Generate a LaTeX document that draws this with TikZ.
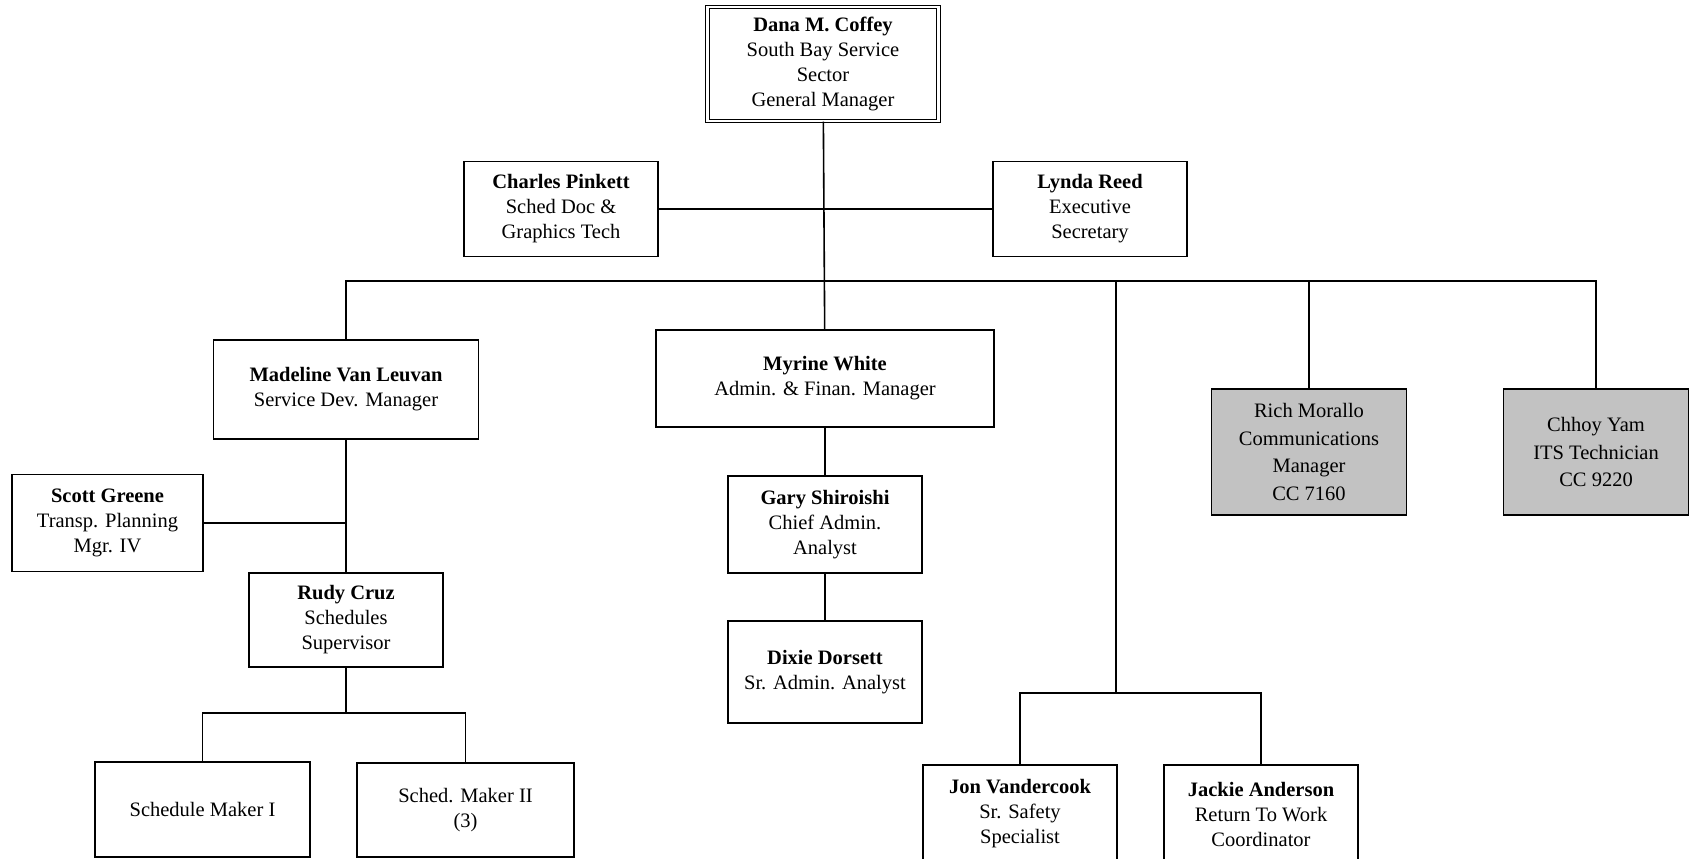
\documentclass[tikz,border=0pt]{standalone}
\usepackage{fontspec}
\setmainfont{Liberation Serif}
\usepackage{xcolor}
\usepackage{tikz}

\begin{document}
\begin{tikzpicture}[x=1pt, y=-1pt, line width=1.6pt,
        font=\fontsize{20.5}{25}\selectfont,
        box/.style={draw, align=center, inner sep=0pt},
        grey/.style={box, fill=black!24, font=\fontsize{20.5}{27.5}\selectfont}]
        \path[use as bounding box, fill=white] (0,0) rectangle (1690,859);
        \clip (0,0) rectangle (1690,859);
        \node[box, double, double distance=2.5pt, line width=1.1pt, minimum width=231pt, minimum height=114pt] (dc) at (823,64)
            {\textbf{Dana M. Coffey}\\South Bay Service\\Sector\\General Manager};
        \node[box, minimum width=194pt, minimum height=95pt] (cp) at (561,209)
            {\textbf{Charles Pinkett}\\Sched Doc \&\\Graphics Tech};
        \node[box, minimum width=194pt, minimum height=95pt] (lr) at (1090,209)
            {\textbf{Lynda Reed}\\Executive\\Secretary};
        \node[box, minimum width=265pt, minimum height=99pt] (mv) at (346,389.5)
            {\textbf{Madeline Van Leuvan}\\Service Dev. Manager};
        \node[box, minimum width=338pt, minimum height=97pt] (mw) at (825,378.5)
            {\textbf{Myrine White}\\Admin. \& Finan. Manager};
        \node[grey, minimum width=195pt, minimum height=126pt] (rm) at (1309,452)
            {Rich Morallo\\Communications\\Manager\\CC 7160};
        \node[grey, minimum width=185pt, minimum height=126pt] (cy) at (1596,452)
            {Chhoy Yam\\ITS Technician\\CC 9220};
        \node[box, minimum width=191pt, minimum height=97pt] (sg) at (107.5,523)
            {\textbf{Scott Greene}\\Transp. Planning\\Mgr. IV};
        \node[box, minimum width=194pt, minimum height=94pt] (rc) at (346,620)
            {\textbf{Rudy Cruz}\\Schedules\\Supervisor};
        \node[box, minimum width=194pt, minimum height=97pt] (gs) at (825,524.5)
            {\textbf{Gary Shiroishi}\\Chief Admin.\\Analyst};
        \node[box, minimum width=194pt, minimum height=102pt] (dd) at (825,672)
            {\textbf{Dixie Dorsett}\\Sr. Admin. Analyst};
        \node[box, minimum width=215pt, minimum height=95pt] (s1) at (202.5,809.5)
            {Schedule Maker I};
        \node[box, minimum width=217pt, minimum height=94pt] (s2) at (465.5,810)
            {Sched. Maker II\\(3)};
        \node[box, minimum width=194pt, minimum height=98pt] (jv) at (1020,814)
            {\textbf{Jon Vandercook}\\Sr. Safety\\Specialist};
        \node[box, minimum width=194pt, minimum height=98pt] (ja) at (1261,814)
            {\textbf{Jackie Anderson}\\Return To Work\\Coordinator};
        \coordinate (bus) at (825,281);
        \coordinate (jb) at (1116,693);
        \coordinate (sb) at (346,713);
        \draw (dc) -- (mw);
        \draw (cp) -- (lr);
        \draw (mv) |- (bus) -| (cy);
        \draw (bus) -| (rm);
        \draw (bus) -| (jb);
        \draw (jv) |- (jb) -| (ja);
        \draw (mv) -- (rc);
        \draw (sg) -- (sg -| rc);
        \draw (rc) -- (sb);
        \draw (s1) |- (sb) -| (s2);
        \draw (mw) -- (gs);
        \draw (gs) -- (dd);
    \end{tikzpicture}
\end{document}
